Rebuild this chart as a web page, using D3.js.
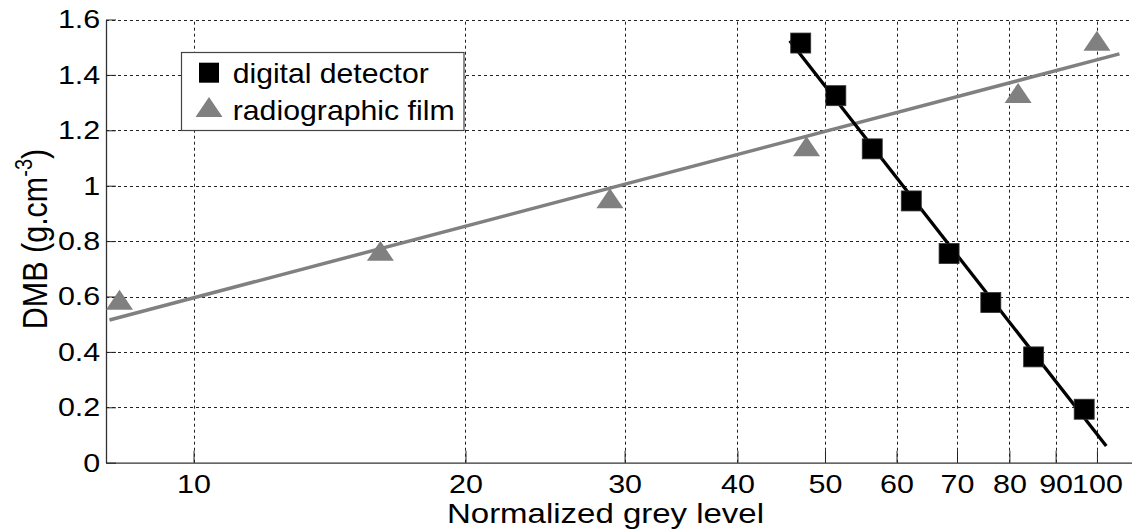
<!DOCTYPE html>
<html>
<head>
<meta charset="utf-8">
<script src="https://cdn.jsdelivr.net/npm/d3@7"></script>
<style>
  body { margin: 0; background: #fff; }
  svg { display: block; font-family: "Liberation Sans", Arial, sans-serif; }
</style>
</head>
<body>
<svg id="chart"></svg>
<script>
// values
const digitalX = [47.0, 51.4, 56.4, 62.3, 68.6, 76.3, 85.1, 96.8];
const digitalY = [1.515, 1.325, 1.133, 0.945, 0.755, 0.578, 0.382, 0.193];
const filmX = [8.28, 16.1, 28.9, 47.7, 81.8, 100];
const filmY = [0.588, 0.765, 0.955, 1.142, 1.335, 1.523];

// fitted lines (end points)
const digitalFitX = [45.7, 102.4];
const digitalFitY = [1.523, 0.060];
const filmFitX = [8.07, 105.9];
const filmFitY = [0.515, 1.476];

const xTicks = [10, 20, 30, 40, 50, 60, 70, 80, 90, 100];
const yTicks = [0, 0.2, 0.4, 0.6, 0.8, 1, 1.2, 1.4, 1.6];
const seriesNames = ["digital detector", "radiographic film"];

const W = 1132, H = 531;
let plotLeft = 106, plotTop = 19.5, plotBottom = 462.7;
let sx = 1.15; // picture is a bit wider than tall text

let svg = d3.select("#chart").attr("width", W).attr("height", H);

let x = d3.scaleLog().domain([8, 110]).range([plotLeft, plotLeft + 903.4 * Math.log10(110 / 8)]);
let y = d3.scaleLinear().domain([0, 1.6]).range([plotBottom, plotTop]);
let plotRight = x.range()[1];

// grid
let grid = svg.append("g").attr("stroke", "#222").attr("stroke-width", 1).attr("stroke-dasharray", "3,3");
grid.selectAll(".vg").data(xTicks).enter().append("line")
  .attr("x1", d => Math.round(x(d)) + 0.5).attr("x2", d => Math.round(x(d)) + 0.5)
  .attr("y1", plotBottom).attr("y2", plotTop);
grid.selectAll(".hg").data(yTicks.filter(d => d > 0)).enter().append("line")
  .attr("y1", d => Math.round(y(d)) + 0.5).attr("y2", d => Math.round(y(d)) + 0.5)
  .attr("x1", plotLeft).attr("x2", plotRight);

// axes
let xAxis = svg.append("g")
  .attr("transform", `translate(0,${plotBottom})`)
  .call(d3.axisBottom(x).tickValues(xTicks).tickFormat(d3.format("d")).tickSize(-12).tickPadding(11).tickSizeOuter(0));
let yAxis = svg.append("g")
  .attr("transform", `translate(${plotLeft},0)`)
  .call(d3.axisLeft(y).tickValues(yTicks).tickFormat(d => String(+d.toFixed(1))).tickSize(-10).tickPadding(5).tickSizeOuter(0));

[xAxis, yAxis].forEach(a => {
  a.select(".domain").attr("stroke", "#333").attr("stroke-width", 1.3);
  a.selectAll(".tick line").attr("stroke", "#222");
  a.selectAll(".tick text").attr("font-size", 26.5).attr("fill", "#000")
    .attr("font-family", "'Liberation Sans', Arial, sans-serif")
    .attr("transform", `scale(${sx},1)`);
});

// fit lines
let line = d3.line().x(d => x(d[0])).y(d => y(d[1]));
svg.append("path").datum(d3.zip(filmFitX, filmFitY))
  .attr("d", line).attr("fill", "none").attr("stroke", "#808080").attr("stroke-width", 3.5);
svg.append("path").datum(d3.zip(digitalFitX, digitalFitY))
  .attr("d", line).attr("fill", "none").attr("stroke", "#000").attr("stroke-width", 3.3);

// markers
const tri = "M0,-10L13.5,10L-13.5,10Z";
svg.selectAll(".film").data(d3.zip(filmX, filmY)).enter().append("path")
  .attr("class", "film").attr("d", tri).attr("fill", "#808080")
  .attr("transform", d => `translate(${x(d[0])},${y(d[1])})`);
svg.selectAll(".digital").data(d3.zip(digitalX, digitalY)).enter().append("rect")
  .attr("class", "digital")
  .attr("x", d => x(d[0]) - 10).attr("y", d => y(d[1]) - 10)
  .attr("width", 20).attr("height", 20)
  .attr("fill", "#000").attr("stroke", "#333").attr("stroke-width", 0.8);

// legend
let lg = svg.append("g");
lg.append("rect").attr("x", 181.5).attr("y", 52.5).attr("width", 282.5).attr("height", 78)
  .attr("fill", "#fff").attr("stroke", "#444").attr("stroke-width", 1.2);
lg.append("rect").attr("x", 199).attr("y", 62.7).attr("width", 20).attr("height", 20).attr("fill", "#000");
lg.append("path").attr("d", tri).attr("fill", "#808080").attr("transform", "translate(209,107)");
let legendW = [196, 222];
lg.selectAll("text").data(seriesNames).enter().append("text")
  .attr("x", 232.7).attr("y", (d, i) => i ? 120 : 83)
  .attr("font-size", 28.5).attr("fill", "#000")
  .attr("textLength", (d, i) => legendW[i]).attr("lengthAdjust", "spacingAndGlyphs")
  .text(d => d);

// axis titles
svg.append("text").attr("x", 605.5).attr("y", 523)
  .attr("text-anchor", "middle").attr("font-size", 28.5)
  .attr("textLength", 317).attr("lengthAdjust", "spacingAndGlyphs")
  .text("Normalized grey level");

let yl = svg.append("text")
  .attr("transform", `translate(46.7,239) scale(${sx},1) rotate(-90)`)
  .attr("text-anchor", "middle").attr("font-size", 30.5);
yl.append("tspan").text("DMB (g.cm");
yl.append("tspan").attr("font-size", 20).attr("dy", -13).text("-3");
yl.append("tspan").attr("dy", 13).text(")");
</script>
</body>
</html>
